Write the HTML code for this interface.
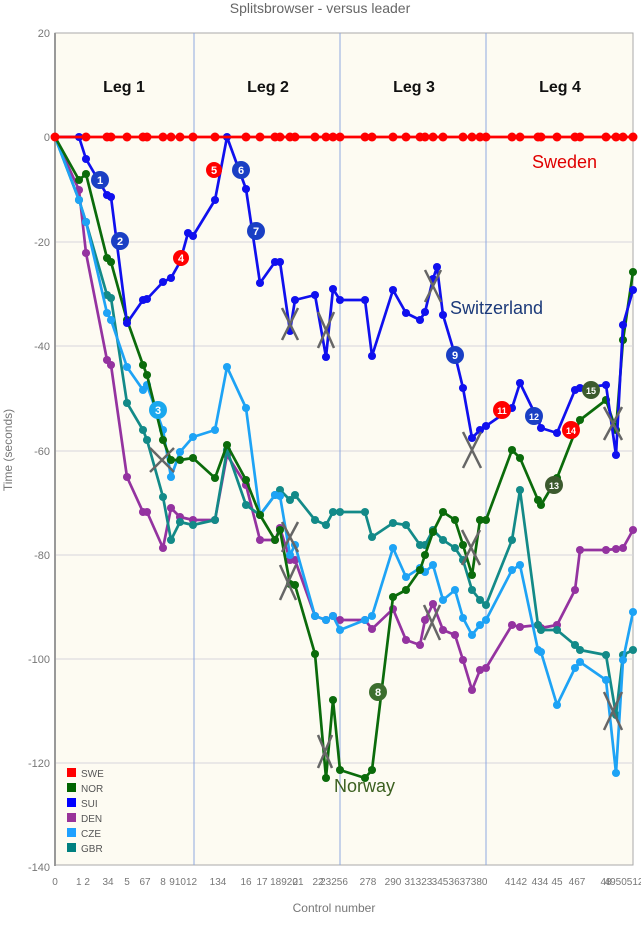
<!DOCTYPE html>
<html><head><meta charset="utf-8"><style>
body{margin:0;background:#fff;}
svg{display:block;font-family:"Liberation Sans","DejaVu Sans",sans-serif;}
</style></head><body>
<svg width="641" height="925" viewBox="0 0 641 925">
<defs>
<marker id="mR" viewBox="0 0 10 10" refX="5" refY="5" markerWidth="10" markerHeight="10" markerUnits="userSpaceOnUse"><circle cx="5" cy="5" r="4.5" fill="#f00"/></marker>
<marker id="mG" viewBox="0 0 10 10" refX="5" refY="5" markerWidth="9" markerHeight="9" markerUnits="userSpaceOnUse"><circle cx="5" cy="5" r="4.5" fill="#0b6b0b"/></marker>
<marker id="mB" viewBox="0 0 10 10" refX="5" refY="5" markerWidth="9" markerHeight="9" markerUnits="userSpaceOnUse"><circle cx="5" cy="5" r="4.5" fill="#1010ee"/></marker>
<marker id="mP" viewBox="0 0 10 10" refX="5" refY="5" markerWidth="9" markerHeight="9" markerUnits="userSpaceOnUse"><circle cx="5" cy="5" r="4.5" fill="#9433a0"/></marker>
<marker id="mC" viewBox="0 0 10 10" refX="5" refY="5" markerWidth="9" markerHeight="9" markerUnits="userSpaceOnUse"><circle cx="5" cy="5" r="4.5" fill="#1ea3f5"/></marker>
<marker id="mT" viewBox="0 0 10 10" refX="5" refY="5" markerWidth="9" markerHeight="9" markerUnits="userSpaceOnUse"><circle cx="5" cy="5" r="4.5" fill="#138a88"/></marker>
</defs>
<text x="320" y="13" font-size="14" fill="#666" text-anchor="middle">Splitsbrowser - versus leader</text>
<rect x="55" y="33" width="578" height="832" fill="#fdfbf2" stroke="#aaa" stroke-width="1"/>
<g stroke="#d6d6dc" stroke-width="1">
<line x1="55" x2="633" y1="137" y2="137"/><line x1="55" x2="633" y1="242" y2="242"/><line x1="55" x2="633" y1="346" y2="346"/><line x1="55" x2="633" y1="451" y2="451"/><line x1="55" x2="633" y1="555" y2="555"/><line x1="55" x2="633" y1="659" y2="659"/><line x1="55" x2="633" y1="763" y2="763"/>
</g>
<g stroke="#8fa8e0" stroke-width="1"><line x1="194" x2="194" y1="33" y2="865"/><line x1="340" x2="340" y1="33" y2="865"/><line x1="486" x2="486" y1="33" y2="865"/></g>
<line x1="55" y1="33" x2="55" y2="866" stroke="#999" stroke-width="2"/>
<g font-size="11" fill="#777" text-anchor="end">
<text x="50" y="37">20</text><text x="50" y="141">0</text><text x="50" y="246">-20</text><text x="50" y="350">-40</text><text x="50" y="455">-60</text><text x="50" y="559">-80</text><text x="50" y="663">-100</text><text x="50" y="767">-120</text><text x="50" y="871">-140</text>
</g>
<text transform="translate(12,450) rotate(-90)" font-size="12" fill="#777" text-anchor="middle">Time (seconds)</text>
<g font-size="10" fill="#777" text-anchor="middle">
<text x="55" y="885">0</text><text x="83" y="885">1 2</text><text x="108" y="885">34</text><text x="127" y="885">5</text><text x="145" y="885">67</text><text x="163" y="885">8</text><text x="172" y="885">9</text><text x="186" y="885">1012</text><text x="218" y="885">134</text><text x="246" y="885">16</text><text x="262" y="885">17</text><text x="284" y="885">18920</text><text x="298" y="885">21</text><text x="318" y="885">22</text><text x="334" y="885">23256</text><text x="368" y="885">278</text><text x="393" y="885">290</text><text x="410" y="885">31</text><text x="424" y="885">323</text><text x="440" y="885">345</text><text x="468" y="885">3637380</text><text x="516" y="885">4142</text><text x="540" y="885">434</text><text x="557" y="885">45</text><text x="577" y="885">467</text><text x="606" y="885">48</text><text x="624" y="885">4950512</text>
</g>
<text x="334" y="912" font-size="12" fill="#777" text-anchor="middle">Control number</text>
<g font-size="16" font-weight="bold" fill="#111" text-anchor="middle">
<text x="124" y="92">Leg 1</text><text x="268" y="92">Leg 2</text><text x="414" y="92">Leg 3</text><text x="560" y="92">Leg 4</text></g>
<g fill="none" stroke-width="2.7" stroke-linejoin="round">
<polyline stroke="#9433a0" marker-mid="url(#mP)" marker-end="url(#mP)" points="55,137 79,190 86,253 107,360 111,365 127,477 143,512 147,512 163,548 171,508 180,517 193,520 215,520 227,455 246,485 260,540 275,540 280,528 290,560 295,560 315,616 326,620 333,616 340,620 365,620 372,629 393,609 406,640 420,645 425,620 433,604 443,630 455,635 463,660 472,690 480,670 486,668 512,625 520,627 538,625 541,628 557,625 575,590 580,550 606,550 616,549 623,548 633,530"/>
<polyline stroke="#138a88" marker-mid="url(#mT)" marker-end="url(#mT)" points="55,137 79,200 86,222 107,295 111,298 127,403 143,430 147,440 163,497 171,540 180,522 193,525 215,520 227,450 246,505 260,515 275,495 280,490 290,500 295,495 315,520 326,525 333,512 340,512 365,512 372,537 393,523 406,525 420,545 425,545 433,530 443,540 455,548 463,560 472,590 480,600 486,605 512,540 520,490 538,625 541,630 557,630 575,645 580,650 606,655 616,715 623,655 633,650"/>
<polyline stroke="#1ea3f5" marker-mid="url(#mC)" marker-end="url(#mC)" points="55,137 79,200 86,222 107,313 111,320 127,367 143,390 147,385 163,430 171,477 180,452 193,437 215,430 227,367 246,408 260,515 275,495 280,496 290,555 295,545 315,616 326,620 333,616 340,630 365,620 372,616 393,548 406,577 420,568 425,572 433,565 443,600 455,590 463,618 472,635 480,625 486,620 512,570 520,565 538,650 541,652 557,705 575,668 580,662 606,680 616,773 623,660 633,612"/>
<polyline stroke="#0b6b0b" marker-mid="url(#mG)" marker-end="url(#mG)" points="55,137 79,180 86,174 107,258 111,262 127,320 143,365 147,375 163,440 171,460 180,460 193,458 215,478 227,445 246,480 260,515 275,540 280,530 290,584 295,585 315,654 326,778 333,700 340,770 365,778 372,770 393,597 406,590 420,570 425,555 433,532 443,512 455,520 463,545 472,575 480,520 486,520 512,450 520,458 538,500 541,505 557,478 575,432 580,420 606,400 616,430 623,340 633,272"/>
<polyline stroke="#1010ee" marker-mid="url(#mB)" marker-end="url(#mB)" points="55,137 79,137 86,159 107,195 111,197 127,323 143,300 147,299 163,282 171,278 180,262 188,233 193,236 215,200 227,137 246,189 260,283 275,262 280,262 290,331 295,300 315,295 326,357 333,289 340,300 365,300 372,356 393,290 406,313 420,320 425,312 433,279 437,267 443,315 455,355 463,388 472,438 480,430 486,426 512,408 520,383 538,420 541,428 557,433 575,390 580,388 606,385 616,455 623,325 633,290"/>
<polyline stroke="#f00" marker-start="url(#mR)" marker-mid="url(#mR)" marker-end="url(#mR)" points="55,137 86,137 107,137 111,137 127,137 143,137 147,137 163,137 171,137 180,137 193,137 215,137 246,137 260,137 275,137 280,137 290,137 295,137 315,137 326,137 333,137 340,137 365,137 372,137 393,137 406,137 420,137 425,137 433,137 443,137 463,137 472,137 480,137 486,137 512,137 520,137 538,137 541,137 557,137 575,137 580,137 606,137 616,137 623,137 633,137"/>
</g>
<g stroke="#666" stroke-width="2.5">
<path d="M150,448 L174,472 M174,448 L150,472"/>
<path d="M282,308 L298,340 M298,308 L282,340"/>
<path d="M318,312 L334,348 M334,312 L318,348"/>
<path d="M282,522 L298,552 M298,522 L282,552"/>
<path d="M280,565 L296,600 M296,565 L280,600"/>
<path d="M318,735 L332,768 M332,735 L318,768"/>
<path d="M425,270 L441,302 M441,270 L425,302"/>
<path d="M424,605 L440,640 M440,605 L424,640"/>
<path d="M463,432 L481,468 M481,432 L463,468"/>
<path d="M462,530 L480,565 M480,530 L462,565"/>
<path d="M604,407 L622,440 M622,407 L604,440"/>
<path d="M604,692 L622,730 M622,692 L604,730"/>
</g>
<g font-size="11" font-weight="bold" fill="#fff" text-anchor="middle">
<circle cx="100" cy="180" r="9" fill="#1a3fc4"/><text x="100" y="184">1</text>
<circle cx="120" cy="241" r="9" fill="#1a3fc4"/><text x="120" y="245">2</text>
<circle cx="158" cy="410" r="9" fill="#1aa8ee"/><text x="158" y="414">3</text>
<circle cx="181" cy="258" r="8" fill="#f00"/><text x="181" y="262">4</text>
<circle cx="214" cy="170" r="8" fill="#f00"/><text x="214" y="174">5</text>
<circle cx="241" cy="170" r="9" fill="#1a3fc4"/><text x="241" y="174">6</text>
<circle cx="256" cy="231" r="9" fill="#1a3fc4"/><text x="256" y="235">7</text>
<circle cx="378" cy="692" r="9" fill="#3c6e2e"/><text x="378" y="696">8</text>
<circle cx="455" cy="355" r="9" fill="#1a3fc4"/><text x="455" y="359">9</text>
<circle cx="502" cy="410" r="9" fill="#f00"/><text x="502" y="414" font-size="9">11</text>
<circle cx="534" cy="416" r="9" fill="#1a3fc4"/><text x="534" y="420" font-size="9">12</text>
<circle cx="554" cy="485" r="9" fill="#3c5a2e"/><text x="554" y="489" font-size="9">13</text>
<circle cx="571" cy="430" r="9" fill="#f00"/><text x="571" y="434" font-size="9">14</text>
<circle cx="591" cy="390" r="9" fill="#3c5a2e"/><text x="591" y="394" font-size="9">15</text>
</g>
<text x="532" y="168" font-size="18" fill="#e00000">Sweden</text>
<text x="450" y="314" font-size="18" fill="#1c3a7a">Switzerland</text>
<text x="334" y="792" font-size="18" fill="#3c6020">Norway</text>
<g font-size="10" fill="#555">
<rect x="67" y="768" width="9" height="9" fill="#f00"/><text x="81" y="777">SWE</text>
<rect x="67" y="783" width="9" height="9" fill="#006400"/><text x="81" y="792">NOR</text>
<rect x="67" y="798" width="9" height="9" fill="#0000ff"/><text x="81" y="807">SUI</text>
<rect x="67" y="813" width="9" height="9" fill="#993399"/><text x="81" y="822">DEN</text>
<rect x="67" y="828" width="9" height="9" fill="#1ea0ff"/><text x="81" y="837">CZE</text>
<rect x="67" y="843" width="9" height="9" fill="#008080"/><text x="81" y="852">GBR</text>
</g>
</svg>
</body></html>
